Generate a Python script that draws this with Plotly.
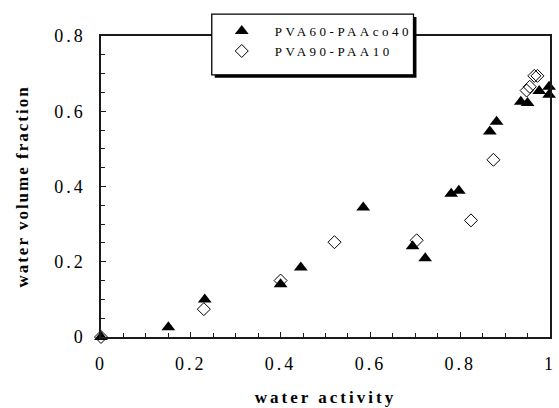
import plotly.graph_objects as go

# PVA60-PAAco40 (filled triangles)
tri_x = [0, 0.15, 0.231, 0.40, 0.445, 0.584, 0.694, 0.722, 0.78, 0.797, 0.866, 0.881, 0.935, 0.95, 0.976, 0.998, 0.998]
tri_y = [0, 0.026, 0.10, 0.14, 0.185, 0.344, 0.241, 0.209, 0.381, 0.389, 0.546, 0.572, 0.625, 0.622, 0.654, 0.665, 0.644]

# PVA90-PAA10 (open diamonds)
dia_x = [0, 0.229, 0.40, 0.52, 0.703, 0.824, 0.874, 0.948, 0.955, 0.965, 0.972]
dia_y = [0, 0.074, 0.15, 0.252, 0.257, 0.31, 0.471, 0.655, 0.665, 0.694, 0.694]

x_ticks = [0, 0.2, 0.4, 0.6, 0.8, 1]
x_tick_text = ["0", "0.2", "0.4", "0.6", "0.8", "1"]
y_ticks = [0, 0.2, 0.4, 0.6, 0.8]
y_tick_text = ["0", "0.2", "0.4", "0.6", "0.8"]

serif = "Liberation Serif, Times New Roman, serif"

fig = go.Figure()
fig.add_trace(go.Scatter(
    x=tri_x, y=tri_y, mode="markers", name="PVA60-PAAco40",
    marker=dict(symbol="triangle-up", size=12, color="black", line=dict(width=0)),
    cliponaxis=False,
))
fig.add_trace(go.Scatter(
    x=dia_x, y=dia_y, mode="markers", name="PVA90-PAA10",
    marker=dict(symbol="diamond-open", size=10, color="black", line=dict(width=1)),
    cliponaxis=False,
))

axis_common = dict(
    showgrid=False, zeroline=False, showline=True, linecolor="#1a1a1a", linewidth=1.5,
    mirror=True, ticks="inside", ticklen=5, tickcolor="#1a1a1a", tickwidth=1,
    tickfont=dict(family=serif, size=18, color="black"),
)

fig.update_xaxes(
    range=[0, 1], tickvals=x_ticks, ticktext=x_tick_text,
    minor=dict(dtick=0.05, ticks="inside", ticklen=4, tickcolor="#1a1a1a"),
    ticklabelstandoff=10,
    title=dict(text="<b>water activity</b>", font=dict(family=serif, size=17, color="black"), standoff=18),
    **axis_common,
)
fig.update_yaxes(
    range=[0, 0.8], tickvals=y_ticks, ticktext=y_tick_text,
    minor=dict(dtick=0.05, ticks="inside", ticklen=4, tickcolor="#1a1a1a"),
    ticklabelstandoff=10,
    title=dict(text="<b>water volume fraction</b>", font=dict(family=serif, size=17, color="black"), standoff=30),
    **axis_common,
)

# legend box with drop shadow
fig.add_shape(type="rect", xref="paper", yref="paper",
              x0=0.2467 + 3 / 454, x1=0.696 + 3 / 454, y0=0.8709 - 3 / 302, y1=1.0728 - 3 / 302,
              fillcolor="black", line=dict(width=0), layer="above")
fig.add_shape(type="rect", xref="paper", yref="paper",
              x0=0.2467, x1=0.696, y0=0.8709, y1=1.0728,
              fillcolor="white", line=dict(color="black", width=1.3), layer="above")

fig.update_layout(
    width=559, height=408,
    margin=dict(l=101, r=4, t=36, b=70),
    plot_bgcolor="white", paper_bgcolor="white",
    showlegend=True,
    legend=dict(
        x=0.240, y=1.066, xanchor="left", yanchor="top",
        bgcolor="rgba(0,0,0,0)", borderwidth=0,
        font=dict(family=serif, size=13, color="black"),
        itemwidth=56, tracegroupgap=0,
    ),
)

post = (
    "var s=document.createElement('style');"
    "s.textContent='.xtitle{letter-spacing:3px}.ytitle{letter-spacing:2px}"
    ".xtick text,.ytick text{letter-spacing:3px}.legendtext{letter-spacing:3.5px}"
    ".legend .scrollbox{clip-path:none !important}';"
    "document.head.appendChild(s);"
)
fig.write_html("out.html", post_script=post)
